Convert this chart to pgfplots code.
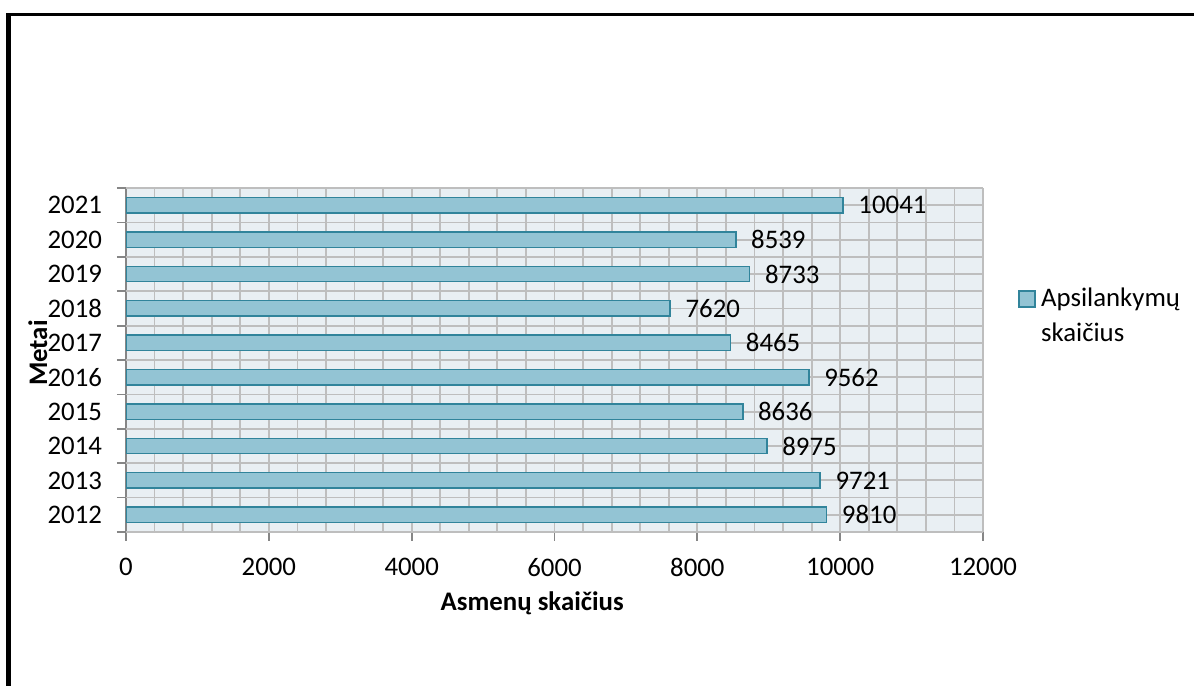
\documentclass[border=0pt]{standalone}
\usepackage{fontspec}
\setmainfont{Carlito}
\usepackage{pgfplots}
\pgfplotsset{compat=1.18}
\pgfplotsset{/pgf/number format/1000 sep={}, /pgf/number format/assume math mode=true}

\definecolor{barfill}{HTML}{93C4D4}
\definecolor{baredge}{HTML}{31849B}
\definecolor{plotbg}{HTML}{E9EFF3}
\definecolor{gridc}{HTML}{BEBEBE}
\definecolor{axisc}{HTML}{868686}
\newcommand\cf{\fontsize{13.4bp}{17.5bp}\selectfont}

\begin{document}
\begin{tikzpicture}[font=\cf]
\path[use as bounding box] (0,0) rectangle (597bp,343bp);
\draw[line width=2.5bp] (4.25bp,0) -- (4.25bp,336bp);
\draw[line width=1.75bp] (3bp,335.75bp) -- (597bp,335.75bp);
\begin{axis}[
  at={(63bp,77bp)}, anchor=south west,
  scale only axis, width=428.5bp, height=172bp,
  xbar, bar width=0.45,
  xmin=0, xmax=12000, ymin=-0.5, ymax=9.5,
  axis background/.style={fill=plotbg},
  axis x line*=bottom, axis y line*=left,
  axis line style={axisc, line width=0.9bp},
  tick align=outside, major tick length=4.5bp, minor tick length=0pt,
  xtick={0,2000,...,12000}, minor x tick num=4, scaled x ticks=false,
  xmajorgrids, xminorgrids, ymajorgrids,
  grid style={gridc, line width=0.9bp},
  minor grid style={gridc, line width=0.9bp},
  ytick={0,...,9},
  yticklabels={2012,2013,2014,2015,2016,2017,2018,2019,2020,2021},
  ytick style={draw=none},
  extra y ticks={-0.5,0.5,...,9.5},
  extra y tick labels={},
  extra y tick style={grid=major, ytick style={draw=axisc, line width=0.9bp}},
  xtick style={axisc, line width=0.9bp},
  yticklabel style={xshift=-4bp},
  xticklabel style={yshift=-5bp},
  xlabel={Asmenų skaičius},
  xlabel style={at={(axis description cs:0.474,-0.206)}, anchor=center, font=\cf\bfseries},
  ylabel={Metai},
  ylabel style={at={(axis description cs:-0.103,0.52)}, anchor=center, font=\cf\bfseries},
  nodes near coords, nodes near coords align={horizontal},
  every node near coord/.append style={text=black, xshift=4bp},
  legend style={at={(axis description cs:1.03,0.735)}, anchor=north west, draw=none, fill=none, cells={align=left}},
  legend image code/.code={\path[draw=none, fill=none] (0bp,8.5bp) -- (11bp,8.5bp);
    \draw[#1] (2bp,4.5bp) rectangle (10bp,12.5bp);},
]
\addplot[fill=barfill, draw=baredge, line width=0.75bp] coordinates {
  (9810,0) (9721,1) (8975,2) (8636,3) (9562,4)
  (8465,5) (7620,6) (8733,7) (8539,8) (10041,9)
};
\addlegendentry{Apsilankymų\\skaičius}
\end{axis}
\end{tikzpicture}
\end{document}
